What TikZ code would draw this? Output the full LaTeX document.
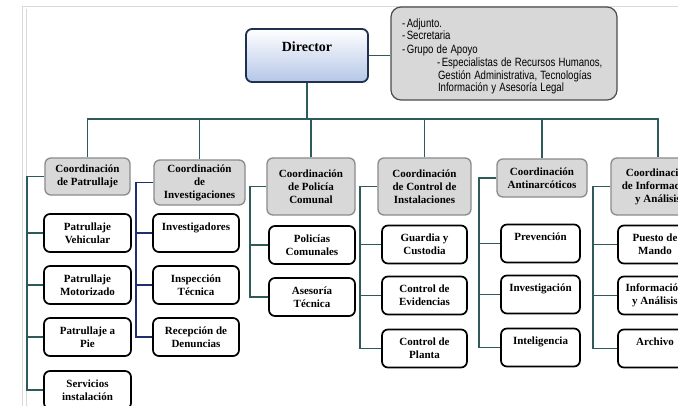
\documentclass[tikz,border=0pt]{standalone}
\usepackage{fontspec}
\setmainfont{Liberation Serif}
\setsansfont{Liberation Sans}
\usepackage{xcolor}
\usepackage{tikz}

\definecolor{linkteal}{HTML}{2F5A5C}
\definecolor{linknavy}{HTML}{1F2F6E}
\definecolor{dirline}{HTML}{1F3050}
\definecolor{dirblue}{HTML}{B4C6E7}
\definecolor{coordfill}{HTML}{D8D8D8}
\definecolor{coordline}{HTML}{8A8A8A}

\newcommand{\narrowline}[1]{\scalebox{0.8}[1]{#1}}

\begin{document}
\begin{tikzpicture}[
		x=1pt, y=-1pt,
		director/.style={rectangle, rounded corners=6pt, draw=dirline, line width=1.8pt, top color=white, bottom color=dirblue, minimum width=122pt, minimum height=53pt, align=center, font=\bfseries\fontsize{14}{17}\selectfont},
		support/.style={rectangle, rounded corners=10pt, draw=gray!60!black, line width=1.2pt, fill=coordfill, minimum height=93pt, text width=204pt, inner xsep=11pt, align=left, font=\sffamily\fontsize{12}{13.3}\selectfont},
		coord/.style={rectangle, rounded corners=6pt, draw=coordline, line width=1.3pt, fill=coordfill, align=center, inner sep=1pt, font=\bfseries\fontsize{11}{13}\selectfont},
		unit/.style={rectangle, rounded corners=6pt, draw=black, line width=1.7pt, fill=white, minimum width=86pt, minimum height=38pt, align=center, inner sep=1pt, font=\bfseries\fontsize{11}{13}\selectfont},
		link/.style={draw=linkteal, line width=1.5pt}
	]
		\useasboundingbox (0,0) rectangle (678,406);
		\clip (0,0) rectangle (678,406);
		\fill[white] (0,0) rectangle (678,406);
		
		% Page frame
		\draw[gray!30, line width=1pt] (22,406) -- (22,7) -- (678,7);
		\draw[gray!30, line width=1pt] (26,406) -- (26,9);
		
		% Director
		\node[director] (director) at (307,55.5) {Director\\\mbox{}};
		\node[support] (apoyo) at (504,53.5) {\rule{0pt}{15pt}\narrowline{-\,Adjunto.}\\[-2pt]
			\narrowline{-\,Secretaria}\\[1pt]
			\narrowline{-\,Grupo de Apoyo}\\
			\hspace*{35pt}\narrowline{-\,Especialistas de Recursos Humanos,}\\
			\hspace*{36pt}\narrowline{Gestión Administrativa, Tecnologías}\\[-1.5pt]
			\hspace*{36pt}\narrowline{Información y Asesoría Legal}};
		
		% Coordinations
		\node[coord, minimum width=85pt, minimum height=37pt] (patrullaje) at (87.5,176.5) {Coordinación\\de Patrullaje};
		\node[coord, minimum width=91pt, minimum height=45pt] (investigaciones) at (199.5,182.5) {Coordinación\\de\\Investigaciones};
		\node[coord, minimum width=88pt, minimum height=57pt] (comunal) at (311,186.5) {Coordinación\\de Policía\\Comunal};
		\node[coord, minimum width=93pt, minimum height=57pt] (control) at (424.5,186.5) {Coordinación\\de Control de\\Instalaciones};
		\node[coord, minimum width=90pt, minimum height=38pt] (antinarcoticos) at (542,178) {Coordinación\\Antinarcóticos};
		\node[coord, minimum width=94pt, minimum height=57pt] (analisis) at (658,186.5) {Coordinación\\de Información\\y Análisis};
		
		% Patrullaje units
		\node[unit, minimum width=87pt] (vehicular) at (87.5,233) {Patrullaje\\Vehicular};
		\node[unit, minimum width=87pt] (motorizado) at (87.5,285) {Patrullaje\\Motorizado};
		\node[unit, minimum width=87pt] (pie) at (87.5,337) {Patrullaje a\\Pie};
		\node[unit, minimum width=87pt] (servicios) at (87.5,390) {Servicios\\instalación};
		
		% Investigaciones units
		\node[unit] (investigadores) at (196,233) {Investigadores\\\mbox{}};
		\node[unit] (inspeccion) at (196,285) {Inspección\\Técnica};
		\node[unit] (recepcion) at (196,337) {Recepción de\\Denuncias};
		
		% Policia Comunal units
		\node[unit] (policias) at (312,245) {Policías\\Comunales};
		\node[unit] (asesoria) at (312,297) {Asesoría\\Técnica};
		
		% Control de Instalaciones units
		\node[unit, minimum width=85pt] (guardia) at (424.5,244.5) {Guardia y\\Custodia};
		\node[unit, minimum width=85pt] (evidencias) at (424.5,295.5) {Control de\\Evidencias};
		\node[unit, minimum width=85pt] (planta) at (424.5,348.5) {Control de\\Planta};
		
		% Antinarcoticos units
		\node[unit, minimum width=79pt] (prevencion) at (540.5,243.5) {Prevención\\\mbox{}};
		\node[unit, minimum width=79pt] (investigacion) at (540.5,294.5) {Investigación\\\mbox{}};
		\node[unit, minimum width=79pt] (inteligencia) at (540.5,347.5) {Inteligencia\\\mbox{}};
		
		% Informacion units
		\node[unit, minimum width=74pt] (puesto) at (655,244.5) {Puesto de\\Mando};
		\node[unit, minimum width=74pt] (informacion) at (655,295.5) {Información\\y Análisis};
		\node[unit, minimum width=74pt] (archivo) at (655,348.5) {Archivo\\\mbox{}};
		
		% Main bus
		\coordinate (bus) at (0,119);
		\draw[link] (director.east) -- (director.east -| apoyo.west);
		\draw[link] (director.south) -- (director.south |- bus);
		\draw[link] (patrullaje.north) |- (analisis.north |- bus) -- (analisis.north);
		\foreach \n in {investigaciones, comunal, control, antinarcoticos}
			\draw[link] (\n.north) -- (\n.north |- bus);
		
		% Side buses
		\coordinate (b1) at (27,0);
		\coordinate (b2) at (136,0);
		\coordinate (b3) at (250,0);
		\coordinate (b4) at (360,0);
		\coordinate (b5) at (479,0);
		\coordinate (b6) at (593,0);
		
		\draw[link] (patrullaje.west) -- (patrullaje.west -| b1) |- (servicios.west);
		\foreach \u in {vehicular, motorizado, pie}
			\draw[link] (\u.west) -- (\u.west -| b1);
		
		\draw[link, draw=linknavy] (investigaciones.west) -- (investigaciones.west -| b2) |- (recepcion.west);
		\foreach \u in {investigadores, inspeccion}
			\draw[link, draw=linknavy] (\u.west) -- (\u.west -| b2);
		
		\draw[link] (comunal.west) -- (comunal.west -| b3) |- (asesoria.west);
		\draw[link] (policias.west) -- (policias.west -| b3);
		
		\draw[link] (control.west) -- (control.west -| b4) |- (planta.west);
		\foreach \u in {guardia, evidencias}
			\draw[link] (\u.west) -- (\u.west -| b4);
		
		\draw[link] (antinarcoticos.west) -- (antinarcoticos.west -| b5) |- (inteligencia.west);
		\foreach \u in {prevencion, investigacion}
			\draw[link] (\u.west) -- (\u.west -| b5);
		
		\draw[link] (analisis.west) -- (analisis.west -| b6) |- (archivo.west);
		\foreach \u in {puesto, informacion}
			\draw[link] (\u.west) -- (\u.west -| b6);
	\end{tikzpicture}
\end{document}
